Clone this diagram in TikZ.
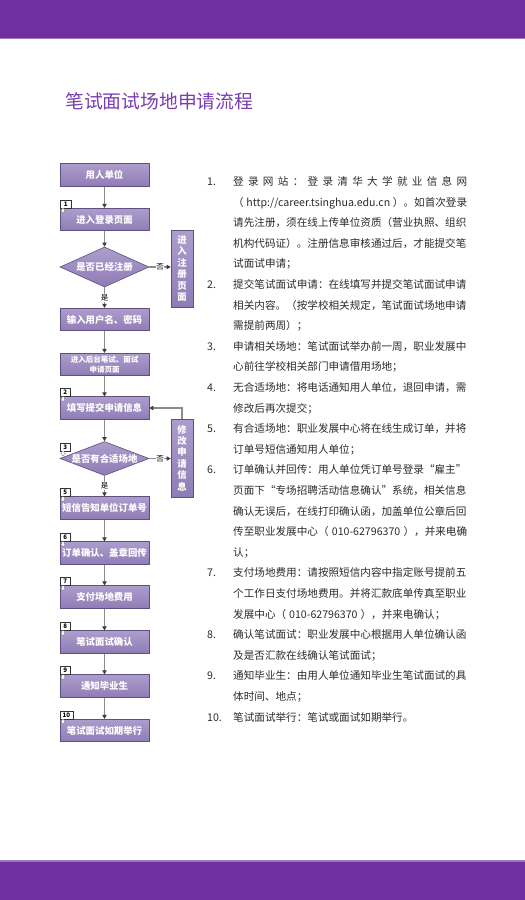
\documentclass[tikz,border=0pt]{standalone}
\usepackage{fontspec}
\setmainfont{Noto Sans CJK SC}
\usetikzlibrary{shapes.geometric,arrows.meta}
\definecolor{barpurple}{HTML}{7030A0}
\definecolor{barline}{HTML}{9A78BC}
\definecolor{titlepurple}{HTML}{7A3CB0}
\definecolor{boxtop}{HTML}{AD9DCD}
\definecolor{boxbot}{HTML}{8F7CB5}
\definecolor{boxedge}{HTML}{5E5080}
\definecolor{lineg}{HTML}{8C8C8C}
\definecolor{tipg}{HTML}{3C3C3C}
\definecolor{bodytext}{HTML}{2B2B2B}
\newcommand\bdg[5]{%
  \node[badge,minimum width=#5] (#1) at (#2,#3) {#4};
  \filldraw[fill=white,draw=black!55,line width=0.3pt]
    ({#2+2},#3) -- ({#2+4},#3) -- ({#2+4},{#3+2}) -- ({#2+5.5},{#3+2}) --
    ({#2+3},{#3+5}) -- ({#2+0.5},{#3+2}) -- ({#2+2},{#3+2}) -- cycle;}
\newcommand\tl[2]{\node[body] (t#1) at (233,{185.5+20.6*#1}) {#2};}
\newcommand\nm[2]{\node[body] (n#1) at (207,{185.5+20.6*#1}) {#2};}
\begin{document}
\begin{tikzpicture}[x=1pt,y=-1pt,
  fbox/.style={draw=boxedge,line width=0.6pt,top color=boxtop,bottom color=boxbot,
    minimum width=89pt,minimum height=22.5pt,inner sep=0pt,text=white,
    font=\fontsize{9.4}{11}\selectfont\bfseries,align=center},
  vbox/.style={fbox,minimum width=22pt,font=\fontsize{9.4}{11.4}\selectfont\bfseries},
  diam/.style={draw=boxedge,line width=0.6pt,top color=boxtop,bottom color=boxbot,
    shape=diamond,inner sep=0pt,minimum width=89pt},
  dtext/.style={text=white,font=\fontsize{9.4}{11}\selectfont\bfseries,inner sep=0pt},
  arr/.style={draw=lineg,line width=1.1pt,-{Triangle[length=4pt,width=4.2pt,color=tipg]}},
  lbl/.style={fill=white,inner sep=0.6pt,font=\fontsize{7.5}{8}\selectfont,text=black},
  badge/.style={draw=black!80,fill=white,line width=0.4pt,inner sep=0pt,
    minimum height=8pt,font=\fontsize{6.2}{7}\selectfont\bfseries,anchor=south west},
  body/.style={anchor=base west,inner sep=0pt,font=\fontsize{10.6}{12}\selectfont,text=bodytext},
]
\useasboundingbox (0,0) rectangle (525,900);
\fill[white] (0,0) rectangle (525,900);
% bars
\fill[barpurple] (0,0) rectangle (525,37.5);
\fill[barline] (0,37.5) rectangle (525,38.7);
\fill[barline] (0,860.3) rectangle (525,861.5);
\fill[barpurple] (0,861.5) rectangle (525,900);
% title
\node[anchor=base west,inner sep=0pt,font=\fontsize{18.8}{20}\selectfont,text=titlepurple]
  (title) at (65,108.6) {笔试面试场地申请流程};
% flowchart
\node[fbox] (s0) at (104.5,175) {用人单位};
\node[fbox] (s1) at (104.5,219.5) {进入登录页面};
\node[diam,minimum height=40pt] (d1) at (104.5,267) {};
\node[dtext] (d1t) at (d1) {是否已经注册};
\node[vbox,minimum height=77pt] (reg) at (182,268.5) {进\\入\\注\\册\\页\\面};
\node[fbox] (s2) at (104.5,319.5) {输入用户名、密码};
\node[fbox,font=\fontsize{7.5}{9.5}\selectfont\bfseries] (s3) at (104.5,364.5) {进入后台笔试、面试\\申请页面};
\node[fbox] (s4) at (104.5,408) {填写提交申请信息};
\node[diam,minimum height=34pt] (d2) at (104.5,458.5) {};
\node[dtext] (d2t) at (d2) {是否有合适场地};
\node[vbox,minimum height=78pt] (mod) at (182,458) {修\\改\\申\\请\\信\\息};
\node[fbox] (s5) at (104.5,508) {短信告知单位订单号};
\node[fbox] (s6) at (104.5,553) {订单确认、盖章回传};
\node[fbox] (s7) at (104.5,597) {支付场地费用};
\node[fbox] (s8) at (104.5,642) {笔试面试确认};
\node[fbox] (s9) at (104.5,686) {通知毕业生};
\node[fbox] (s10) at (104.5,730.5) {笔试面试如期举行};
% connectors
\draw[arr] (s0.south) -- (s1.north);
\draw[arr] (s1.south) -- (d1.north);
\draw[arr] (d1.east) -- node[lbl] (no1) {否} (d1.east -| reg.west);
\draw[arr] (d1.south) -- node[lbl] (yes1) {是} (s2.north);
\draw[arr] (s2.south) -- (s3.north);
\draw[arr] (s3.south) -- (s4.north);
\draw[arr] (s4.south) -- (d2.north);
\draw[arr] (d2.east) -- node[lbl] (no2) {否} (d2.east -| mod.west);
\draw[arr] (mod.north) |- (s4.east);
\draw[arr] (d2.south) -- node[lbl] (yes2) {是} (s5.north);
\draw[arr] (s5.south) -- (s6.north);
\draw[arr] (s6.south) -- (s7.north);
\draw[arr] (s7.south) -- (s8.north);
\draw[arr] (s8.south) -- (s9.north);
\draw[arr] (s9.south) -- (s10.north);
% badges
\bdg{b1}{60}{208.25}{1}{11pt}
\bdg{b2}{60}{396.75}{2}{10pt}
\bdg{b3}{60}{451}{3}{10pt}
\bdg{b5}{60}{496.75}{5}{10pt}
\bdg{b6}{60}{541.75}{6}{10pt}
\bdg{b7}{60}{585.75}{7}{10pt}
\bdg{b8}{60}{630.75}{8}{10pt}
\bdg{b9}{60}{674.75}{9}{10pt}
\bdg{b10}{60}{719.25}{10}{12.5pt}
% text column
\nm{0}{1.}
\tl{0}{\hbox to 234pt{登\hfill 录\hfill 网\hfill 站\hfill ：\hfill 登\hfill 录\hfill 清\hfill 华\hfill 大\hfill 学\hfill 就\hfill 业\hfill 信\hfill 息\hfill 网}}
\tl{1}{\hbox to 234pt{（\hfill http://career.tsinghua.edu.cn\hfill ）。如首次登录}}
\tl{2}{请先注册，须在线上传单位资质（营业执照、组织}
\tl{3}{机构代码证）。注册信息审核通过后，才能提交笔}
\tl{4}{试面试申请；}
\nm{5}{2.}
\tl{5}{提交笔试面试申请：在线填写并提交笔试面试申请}
\tl{6}{相关内容。（按学校相关规定，笔试面试场地申请}
\tl{7}{需提前两周）；}
\nm{8}{3.}
\tl{8}{申请相关场地：笔试面试举办前一周，职业发展中}
\tl{9}{心前往学校相关部门申请借用场地；}
\nm{10}{4.}
\tl{10}{无合适场地：将电话通知用人单位，退回申请，需}
\tl{11}{修改后再次提交；}
\nm{12}{5.}
\tl{12}{有合适场地：职业发展中心将在线生成订单，并将}
\tl{13}{订单号短信通知用人单位；}
\nm{14}{6.}
\tl{14}{订单确认并回传：用人单位凭订单号登录“雇主”}
\tl{15}{页面下“专场招聘活动信息确认”系统，相关信息}
\tl{16}{确认无误后，在线打印确认函，加盖单位公章后回}
\tl{17}{\hbox to 234pt{传至职业发展中心（\hfill 010-62796370\hfill ），并来电确}}
\tl{18}{认；}
\nm{19}{7.}
\tl{19}{支付场地费用：请按照短信内容中指定账号提前五}
\tl{20}{个工作日支付场地费用。并将汇款底单传真至职业}
\tl{21}{发展中心（\hspace{3pt}010-62796370\hspace{3pt}），并来电确认；}
\nm{22}{8.}
\tl{22}{确认笔试面试：职业发展中心根据用人单位确认函}
\tl{23}{及是否汇款在线确认笔试面试；}
\nm{24}{9.}
\tl{24}{通知毕业生：由用人单位通知毕业生笔试面试的具}
\tl{25}{体时间、地点；}
\nm{26}{10.}
\tl{26}{笔试面试举行：笔试或面试如期举行。}
\end{tikzpicture}
\end{document}
